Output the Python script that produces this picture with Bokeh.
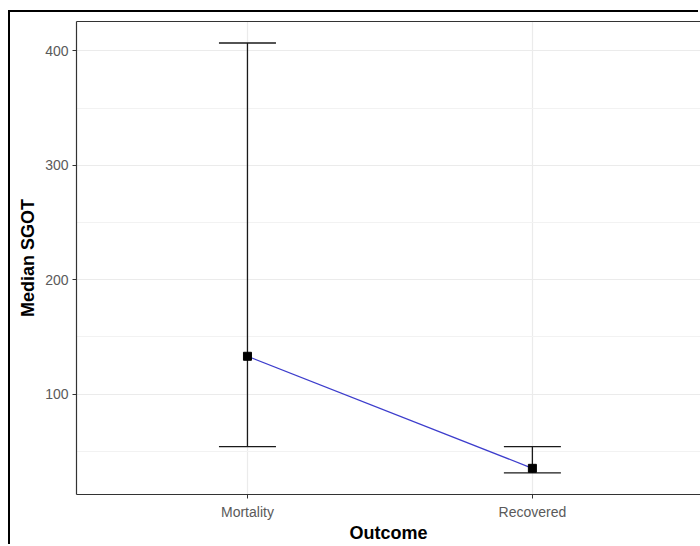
from bokeh.plotting import figure
from bokeh.models import (Range1d, FixedTicker, ColumnDataSource, Whisker, TeeHead,
                          LinearAxis)
from bokeh.embed import file_html
from bokeh.resources import INLINE

# Data
categories = ["Mortality", "Recovered"]
x_pos = [1, 2]
medians = [133, 35]
lower = [54, 31]
upper = [407, 54]

y_major = [100, 200, 300, 400]
y_minor = [50, 150, 250, 350]

X0, X1 = 0.4, 2.59
Y0, Y1 = 12.1, 425.8

# the figure sits inside an outer black frame (top/left edges visible)
OFF_X, OFF_Y = 10, 12
W, H = 700 - OFF_X, 546 - OFF_Y
p = figure(width=W, height=H, output_backend="svg", toolbar_location=None,
           x_range=Range1d(X0, X1), y_range=Range1d(Y0, Y1),
           min_border_left=76 - OFF_X, min_border_right=0, min_border_top=21 - OFF_Y,
           min_border_bottom=52,
           styles={"margin-left": f"{OFF_X}px", "margin-top": f"{OFF_Y}px",
                   "box-shadow": "-2px -2px 0 0 #000000"})

p.background_fill_color = "white"
p.border_fill_color = "white"
p.outline_line_color = None

# grids
p.xaxis.ticker = FixedTicker(ticks=x_pos)
p.xaxis.major_label_overrides = {x: c for x, c in zip(x_pos, categories)}
p.xaxis.bounds = (X0, X1)
p.yaxis.ticker = FixedTicker(ticks=y_major, minor_ticks=y_minor)
p.yaxis.bounds = (Y0, Y1)
p.xgrid.grid_line_color = "#ebebeb"
p.xgrid.grid_line_width = 1.2
p.ygrid.grid_line_color = "#ebebeb"
p.ygrid.grid_line_width = 1.2
p.ygrid.minor_grid_line_color = "#f2f2f2"
p.ygrid.minor_grid_line_width = 1

for ax in (p.xaxis, p.yaxis):
    ax.axis_line_color = "#333333"
    ax.axis_line_width = 1.2
    ax.major_tick_line_color = "#333333"
    ax.major_tick_out = 4
    ax.major_tick_in = 0
    ax.minor_tick_line_color = None
    ax.major_label_text_font = "Liberation Sans"
    ax.major_label_text_font_size = "14px"
    ax.major_label_text_color = "#5a5a5a"
    ax.axis_label_text_font = "Liberation Sans"
    ax.axis_label_text_font_size = "18px"
    ax.axis_label_text_font_style = "bold"
    ax.axis_label_text_color = "black"

p.xaxis.axis_label = "Outcome"
p.yaxis.axis_label = "Median SGOT"
p.xaxis.major_label_standoff = 5
p.yaxis.major_label_standoff = 4
p.xaxis.axis_label_standoff = 0
p.yaxis.axis_label_standoff = 4

# top border of the panel
top_axis = LinearAxis(ticker=FixedTicker(ticks=[]), axis_line_color="#333333",
                      axis_line_width=1.2, major_tick_line_color=None,
                      minor_tick_line_color=None, major_label_text_font_size="0px")
p.add_layout(top_axis, "above")

src = ColumnDataSource(dict(x=x_pos, med=medians, lo=lower, hi=upper))

# blue connecting line
p.line("x", "med", source=src, line_color="#3d3dcc", line_width=1.2)

# error bars
wh = Whisker(base="x", upper="hi", lower="lo", source=src, dimension="height",
             line_color="#1a1a1a", line_width=1.3,
             upper_head=TeeHead(size=57, line_color="#1a1a1a", line_width=1.3),
             lower_head=TeeHead(size=57, line_color="#1a1a1a", line_width=1.3))
p.add_layout(wh)

# median points
p.scatter("x", "med", source=src, marker="square", size=8, color="black")

open("out.html", "w").write(file_html(p, INLINE))
